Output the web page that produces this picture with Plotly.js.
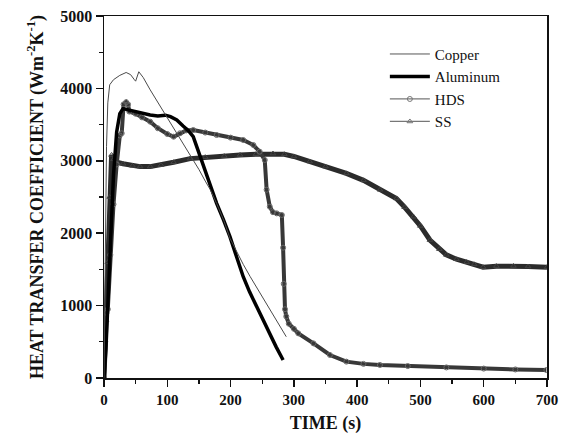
<!DOCTYPE html>
<html>
<head>
<meta charset="utf-8">
<script src="https://cdn.plot.ly/plotly-3.0.1.min.js"></script>
<style>html,body{margin:0;padding:0;background:#fff;}#chart{width:565px;height:439px;}</style>
</head>
<body>
<div id="chart"></div>
<script>
// Copper
var copperT = [0, 2, 4, 6, 9, 15, 25, 35, 42, 48, 50, 55, 62, 73, 80, 90, 97, 110, 120, 130, 141, 150, 160, 168, 178, 190, 199, 210, 220, 231, 240, 250, 257, 270, 280, 288];
var copperH = [0, 1500, 3200, 3800, 4050, 4120, 4180, 4220, 4190, 4120, 4100, 4230, 4150, 3980, 3880, 3740, 3630, 3440, 3300, 3160, 3010, 2880, 2720, 2600, 2410, 2160, 1930, 1730, 1570, 1400, 1270, 1130, 1030, 840, 700, 570];
// Aluminum
var aluT = [0, 3, 6, 10, 15, 20, 25, 30, 40, 50, 60, 73, 85, 97, 105, 115, 125, 133, 141, 149, 157, 167, 178, 189, 199, 210, 220, 230, 241, 251, 262, 272, 283];
var aluH = [0, 400, 1000, 1900, 2800, 3400, 3650, 3720, 3700, 3670, 3650, 3632, 3620, 3630, 3610, 3564, 3480, 3420, 3333, 3130, 2919, 2660, 2412, 2180, 1952, 1660, 1399, 1190, 985, 800, 617, 430, 249];
// HDS
var hdsT = [0, 2, 4, 6, 10, 15, 20, 25, 28, 31, 35, 38, 40, 50, 60, 73, 85, 100, 110, 120, 130, 141, 160, 178, 200, 220, 236, 246, 254, 257, 262, 267, 273, 281, 283, 284, 286, 288, 292, 300, 307, 331, 357, 383, 410, 436, 480, 541, 600, 650, 699];
var hdsH = [0, 500, 900, 950, 1700, 2400, 2950, 3350, 3380, 3780, 3810, 3780, 3680, 3650, 3600, 3540, 3450, 3370, 3333, 3380, 3420, 3425, 3390, 3356, 3320, 3287, 3218, 3126, 3011, 2600, 2366, 2290, 2274, 2251, 1800, 1300, 950, 850, 750, 680, 617, 478, 318, 226, 195, 180, 165, 146, 130, 118, 110];
// SS
var ssT = [0, 3, 6, 9, 12, 15, 20, 30, 45, 57, 73, 90, 110, 136, 160, 190, 215, 240, 267, 285, 300, 325, 350, 383, 410, 436, 462, 475, 489, 500, 515, 530, 541, 557, 573, 585, 599, 620, 647, 670, 700];
var ssH = [0, 800, 1600, 2500, 3080, 3020, 2980, 2960, 2930, 2920, 2920, 2940, 2980, 3030, 3050, 3065, 3080, 3090, 3100, 3090, 3060, 2990, 2920, 2826, 2730, 2600, 2480, 2360, 2228, 2100, 1906, 1780, 1700, 1640, 1600, 1570, 1530, 1545, 1547, 1540, 1530];

var xTicks = [0, 100, 200, 300, 400, 500, 600, 700];
var yTicks = [0, 1000, 2000, 3000, 4000, 5000];

var serif = "Liberation Serif, Times New Roman, serif";

var traces = [
  {x: ssT, y: ssH, name: 'SS', mode: 'lines+markers', showlegend: false,
   line: {color: '#2b2b2b', width: 5},
   marker: {symbol: 'triangle-up-open', size: 5, color: '#444', line: {width: 1}}},
  {x: hdsT, y: hdsH, name: 'HDS', mode: 'lines+markers', showlegend: false,
   line: {color: '#383838', width: 4},
   marker: {symbol: 'circle-open', size: 5, color: '#666', line: {width: 1}}},
  {x: aluT, y: aluH, name: 'Aluminum', mode: 'lines', showlegend: false,
   line: {color: '#000', width: 3.5}},
  {x: copperT, y: copperH, name: 'Copper', mode: 'lines', showlegend: false,
   line: {color: '#4a4a4a', width: 1}},
  // legend entries
  {x: [null], y: [null], name: 'Copper', mode: 'lines', line: {color: '#555', width: 1}},
  {x: [null], y: [null], name: 'Aluminum', mode: 'lines', line: {color: '#000', width: 3.5}},
  {x: [null], y: [null], name: 'HDS', mode: 'lines+markers', line: {color: '#777', width: 1.2},
   marker: {symbol: 'circle-open', size: 5, color: '#777'}},
  {x: [null], y: [null], name: 'SS', mode: 'lines+markers', line: {color: '#777', width: 1.2},
   marker: {symbol: 'triangle-up-open', size: 5, color: '#777'}}
];

var layout = {
  width: 565, height: 439,
  margin: {l: 104, r: 18, t: 16, b: 61, pad: 0},
  paper_bgcolor: '#fff', plot_bgcolor: '#fff',
  showlegend: true,
  legend: {x: 0.634, y: 0.94, xanchor: 'left', yanchor: 'top', bgcolor: 'rgba(0,0,0,0)',
           font: {family: serif, size: 15, color: '#111'}, traceorder: 'normal', tracegroupgap: 0,
           itemwidth: 40},
  xaxis: {
    range: [0, 700], tickvals: xTicks, ticktext: xTicks.map(String),
    showgrid: false, zeroline: false, showline: true, linecolor: '#111', linewidth: 1.5, mirror: true,
    ticks: 'outside', ticklen: 7, tickwidth: 1.5, tickcolor: '#111',
    minor: {dtick: 50, ticks: 'outside', ticklen: 4, tickwidth: 1.2, tickcolor: '#111', showgrid: false},
    tickfont: {family: serif, size: 15, weight: 'bold', color: '#111'},
    title: {text: 'TIME (s)', font: {family: serif, size: 18, weight: 'bold', color: '#111'}, standoff: 10}
  },
  yaxis: {
    range: [0, 5000], tickvals: yTicks, ticktext: yTicks.map(String),
    showgrid: false, zeroline: false, showline: true, linecolor: '#111', linewidth: 1.5, mirror: true,
    ticks: 'outside', ticklen: 7, tickwidth: 1.5, tickcolor: '#111',
    minor: {dtick: 500, ticks: 'outside', ticklen: 4, tickwidth: 1.2, tickcolor: '#111', showgrid: false},
    tickfont: {family: serif, size: 16, weight: 'bold', color: '#111'},
    title: {text: 'HEAT TRANSFER COEFFICIENT (Wm<sup>-2</sup>K<sup>-1</sup>)', font: {family: serif, size: 18, weight: 'bold', color: '#111'}, standoff: 12}
  }
};

Plotly.newPlot('chart', traces, layout, {displayModeBar: false, staticPlot: true});
</script>
</body>
</html>
